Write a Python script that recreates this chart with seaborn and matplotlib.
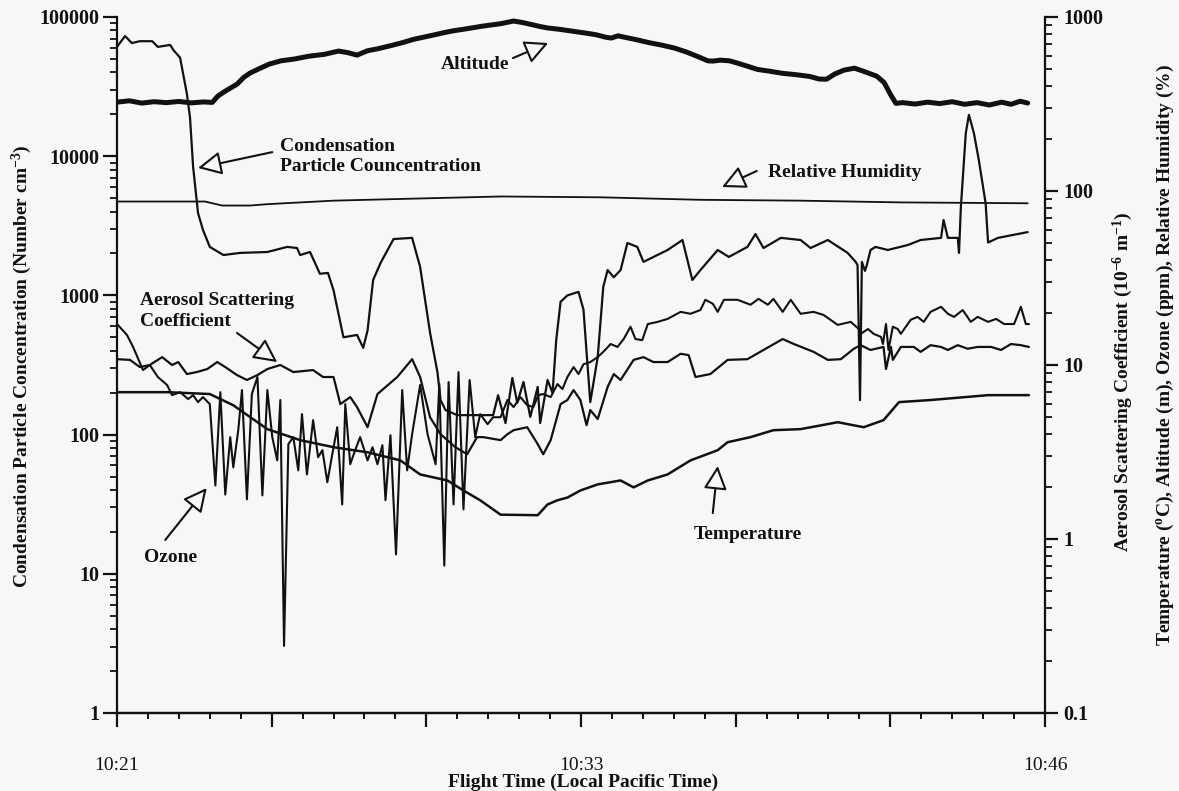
import matplotlib
matplotlib.use("Agg")
import matplotlib.pyplot as plt
import numpy as np
import pandas as pd
import seaborn as sns
from matplotlib.ticker import LogLocator, NullFormatter, MultipleLocator

# ---- flight record (time in seconds after the start of the leg) ----
cn_t = [0, 13, 24, 37, 57, 66, 86, 91, 102, 113, 118, 123, 131, 139, 150, 172, 199, 243, 275, 291,
        296, 312, 328, 341, 350, 366, 388, 398, 405, 414, 426, 447, 477, 490, 506, 518, 523, 531, 550, 608,
        616, 628, 639, 647, 657, 668, 680, 684, 696, 704, 710, 717, 728, 746, 754, 760, 765, 777, 786, 793,
        803, 814, 825, 841, 851, 890, 914, 930, 943, 971, 989, 1019, 1032, 1045, 1073, 1105, 1121, 1149, 1181, 1194,
        1197, 1201, 1204, 1209, 1212, 1218, 1226, 1246, 1278, 1299, 1332, 1336, 1343, 1359, 1361, 1364, 1372, 1377, 1385, 1393,
        1404, 1408, 1424, 1472]
cn_val = [61000, 73000, 65000, 67000, 67000, 61000, 63000, 58000, 51000, 28000, 19000, 8400, 3900, 2950, 2230, 1950, 2020, 2050, 2230, 2190,
          1950, 2050, 1430, 1450, 1090, 500, 520, 420, 560, 1290, 1710, 2540, 2590, 1600, 540, 280, 177, 150, 138, 138,
          192, 121, 255, 169, 239, 134, 220, 121, 247, 199, 480, 900, 1000, 1060, 790, 340, 171, 360, 1150, 1520,
          1350, 1520, 2380, 2230, 1740, 2120, 2500, 1290, 1520, 2120, 1890, 2230, 2760, 2190, 2590, 2500, 2190, 2500, 2020, 1740,
          1650, 177, 1740, 1500, 1650, 2120, 2230, 2120, 2300, 2500, 2590, 3480, 2590, 2590, 2020, 4300, 14700, 19800, 14700, 9400,
          4600, 2400, 2590, 2850]

alt_t = [0, 20, 40, 60, 80, 100, 120, 140, 154, 163, 175, 194, 205, 215, 230, 246, 265, 286,
         310, 335, 358, 372, 388, 405, 420, 440, 460, 480, 495, 511, 530, 545, 560, 573, 590, 605, 620, 641,
         655, 670, 685, 696, 715, 735, 757, 775, 790, 799, 810, 819, 840, 860, 880, 901, 920, 940, 955, 963,
         975, 990, 1003, 1020, 1035, 1055, 1075, 1100, 1120, 1135, 1147, 1160, 1175, 1192, 1205, 1228, 1240, 1250, 1259, 1270,
         1290, 1310, 1330, 1350, 1370, 1390, 1410, 1430, 1445, 1460, 1472]
alt_val = [324, 330, 320, 326, 322, 327, 321, 325, 323, 351, 375, 411, 450, 476, 505, 536, 560, 573,
           595, 610, 637, 625, 604, 640, 655, 681, 710, 745, 765, 787, 815, 835, 850, 865, 885, 900, 915, 948,
           930, 905, 880, 865, 850, 830, 809, 790, 765, 757, 780, 767, 740, 712, 690, 663, 630, 590, 560, 558,
           565, 560, 543, 520, 500, 488, 475, 465, 455, 440, 439, 470, 495, 508, 490, 457, 420, 360, 319, 322,
           316, 324, 318, 326, 315, 322, 312, 324, 315, 328, 320]

rh_t = [0, 142, 170, 215, 243, 350, 458, 620, 781, 943, 1105, 1267, 1472]
rh_val = [87, 87, 82.5, 82.5, 84, 88, 90, 93, 92, 89, 88, 86, 85]

temp_t = [0, 81, 150, 188, 243, 296, 350, 405, 458, 490, 534, 560, 587, 620, 680, 696, 712, 728, 749, 777,
          814, 835, 858, 890, 927, 971, 987, 1024, 1061, 1105, 1165, 1207, 1239, 1264, 1315, 1408, 1474]
temp_val = [6.98, 6.98, 6.81, 5.87, 4.28, 3.70, 3.37, 3.15, 2.83, 2.35, 2.17, 1.90, 1.67, 1.38, 1.37, 1.58, 1.67, 1.73, 1.90, 2.06,
            2.17, 1.98, 2.17, 2.35, 2.83, 3.24, 3.60, 3.85, 4.22, 4.28, 4.69, 4.39, 4.82, 6.12, 6.29, 6.71, 6.71]

oz_t = [0, 16, 26, 42, 53, 66, 81, 89, 102, 115, 123, 131, 139, 150, 159, 167, 175, 183, 188, 196,
        202, 210, 218, 227, 235, 243, 251, 259, 264, 270, 277, 285, 293, 299, 307, 317, 325, 332, 340, 348,
        356, 364, 369, 377, 385, 393, 405, 413, 421, 429, 434, 442, 451, 461, 469, 477, 490, 502, 515, 521,
        529, 536, 544, 552, 560, 570, 579, 587, 599, 608, 620, 631, 641, 652, 663, 673, 681, 689, 701, 712,
        720, 728, 738, 746, 754, 765, 777, 786, 798, 809, 819, 830, 838, 849, 858, 874, 890, 911, 927, 943,
        951, 963, 971, 981, 1003, 1024, 1037, 1052, 1061, 1076, 1089, 1105, 1126, 1142, 1165, 1186, 1199, 1202, 1214, 1223,
        1235, 1238, 1243, 1247, 1254, 1262, 1267, 1283, 1294, 1304, 1315, 1332, 1343, 1353, 1367, 1380, 1391, 1408, 1421, 1434,
        1450, 1461, 1469, 1474]
oz_val = [17.2, 14.9, 12.7, 9.35, 10.0, 8.53, 7.67, 6.71, 6.98, 6.37, 6.71, 6.12, 6.54, 5.96, 2.03, 6.98, 1.80, 3.85, 2.58, 4.22,
          7.18, 1.69, 6.81, 8.53, 1.78, 7.18, 3.85, 2.83, 6.29, 0.243, 3.51, 3.85, 2.48, 5.22, 2.35, 4.82, 2.95, 3.24, 2.12, 3.07,
          4.39, 1.58, 5.96, 2.69, 3.24, 3.85, 2.83, 3.37, 2.69, 3.46, 1.67, 3.95, 0.815, 7.18, 2.48, 4.00, 7.67, 4.00, 2.69, 7.77,
          0.703, 7.98, 1.58, 9.11, 1.48, 8.20, 3.85, 5.22, 4.57, 5.01, 5.01, 6.29, 5.73, 6.54, 5.88, 5.73, 6.71, 6.81, 6.54, 7.77,
          7.27, 8.53, 9.73, 8.87, 10.1, 10.4, 11.1, 11.9, 13.2, 12.7, 14.1, 16.6, 14.1, 13.9, 17.2, 17.7, 18.4, 20.2, 19.7, 20.7,
          23.7, 22.5, 20.2, 23.7, 23.7, 22.2, 24.0, 22.2, 24.0, 20.2, 23.7, 19.7, 20.2, 19.4, 17.0, 17.7, 16.1, 15.1, 16.1, 15.1,
          14.5, 13.2, 17.2, 12.2, 16.6, 16.1, 15.1, 18.2, 18.9, 17.7, 20.2, 21.6, 19.7, 18.9, 20.7, 17.7, 18.9, 17.7, 18.4, 17.2,
          17.2, 21.6, 17.2, 17.2]

aer_t = [0, 21, 37, 53, 73, 89, 99, 113, 129, 146, 162, 175, 194, 210, 227, 243, 264, 285, 317, 333,
         350, 361, 377, 388, 405, 421, 453, 477, 490, 506, 523, 547, 566, 582, 592, 620, 631, 641, 663, 680,
         689, 701, 717, 728, 738, 749, 759, 765, 777, 793, 803, 814, 835, 851, 867, 890, 911, 924, 935, 959,
         987, 1019, 1045, 1076, 1094, 1126, 1149, 1170, 1191, 1202, 1218, 1239, 1243, 1251, 1254, 1267, 1288, 1299, 1315, 1332,
         1343, 1359, 1375, 1391, 1413, 1429, 1445, 1461, 1474]
aer_val = [10.8, 10.7, 9.73, 10.0, 11.1, 10.0, 10.4, 8.87, 9.11, 9.48, 10.4, 9.73, 8.75, 8.20, 8.75, 9.48, 10.0, 9.11, 9.35, 8.53,
           8.53, 5.96, 6.54, 5.73, 4.39, 6.81, 8.53, 10.8, 8.53, 5.01, 4.00, 3.37, 3.07, 3.85, 3.85, 3.70, 4.00, 4.22, 4.39, 3.51,
           3.07, 3.70, 5.96, 6.29, 7.18, 6.29, 4.51, 5.51, 4.89, 7.47, 8.87, 8.20, 10.7, 11.1, 10.4, 10.4, 11.6, 11.4, 8.53, 8.87,
           10.7, 10.8, 12.2, 14.1, 13.2, 11.9, 10.7, 10.8, 12.4, 13.0, 12.2, 12.7, 9.48, 12.7, 10.7, 12.7, 12.7, 11.9, 13.0, 12.7,
           12.2, 13.0, 12.4, 12.7, 12.7, 12.2, 13.2, 13.0, 12.7]

time_ticks = [0, 250, 500, 750, 1000, 1250, 1500]
time_labels = ["10:21", "", "", "10:33", "", "", "10:46"]
left_ticks = [1, 10, 100, 1000, 10000, 100000]
right_ticks = [0.1, 1, 10, 100, 1000]

# ---- style ----
sns.set_theme(style="ticks")
plt.rcParams["font.family"] = ["Liberation Serif", "DejaVu Serif"]
plt.rcParams["mathtext.default"] = "regular"
BG = "#f6f8f8"
INK = "#111111"

fig = plt.figure(figsize=(11.79, 7.91), dpi=100, facecolor=BG)
ax = fig.add_axes([117 / 1179, 1 - 713 / 791, 928 / 1179, 696 / 791])
ax.set_facecolor(BG)
ax.set_yscale("log")
ax.set_xlim(0, 1500)
ax.set_ylim(1, 1e5)

ax2 = ax.twinx()
ax2.set_yscale("log")
ax2.set_ylim(0.1, 1000)
ax2.patch.set_visible(False)


def trace(axis, t, v, lw):
    df = pd.DataFrame({"t": t, "v": v})
    sns.lineplot(data=df, x="t", y="v", ax=axis, color=INK, lw=lw,
                 estimator=None, sort=False, legend=False)


trace(ax, cn_t, cn_val, 1.6)
trace(ax2, alt_t, alt_val, 3.6)
trace(ax2, rh_t, rh_val, 1.3)
trace(ax2, temp_t, temp_val, 1.8)
trace(ax2, oz_t, oz_val, 1.5)
trace(ax2, aer_t, aer_val, 1.6)

for a in (ax, ax2):
    a.set_xlabel("")
    a.set_ylabel("")
    a.spines["top"].set_visible(False)
    for s in a.spines.values():
        s.set_linewidth(1.6)
        s.set_color(INK)
ax.spines["right"].set_visible(False)
ax2.spines["left"].set_visible(False)

# x axis
ax.set_xticks(time_ticks)
ax.set_xticklabels(time_labels, fontsize=14, fontweight="normal")
ax.xaxis.set_minor_locator(MultipleLocator(50))
ax.tick_params(axis="x", which="major", direction="out", length=10, width=1.6, pad=22, colors=INK)
ax.tick_params(axis="x", which="minor", direction="out", length=4, width=1.4, colors=INK)

# left axis
ax.set_yticks(left_ticks)
ax.set_yticklabels([f"{v:g}" for v in left_ticks], fontsize=14.5, fontweight="bold")
ax.yaxis.set_minor_locator(LogLocator(base=10, subs=range(2, 10), numticks=20))
ax.yaxis.set_minor_formatter(NullFormatter())
ax.tick_params(axis="y", which="major", direction="out", length=10, width=1.6, pad=3, colors=INK)
ax.tick_params(axis="y", which="minor", direction="out", length=5, width=1.3, colors=INK)

# right axis
ax2.set_yticks(right_ticks)
ax2.set_yticklabels([f"{v:g}" for v in right_ticks], fontsize=14.5, fontweight="bold")
ax2.yaxis.set_minor_locator(LogLocator(base=10, subs=range(2, 10), numticks=20))
ax2.yaxis.set_minor_formatter(NullFormatter())
ax2.tick_params(axis="y", which="major", direction="out", length=9, width=1.6, pad=4, colors=INK)
ax2.tick_params(axis="y", which="minor", direction="out", length=5, width=1.3, colors=INK)

# axis titles
fig.text(583 / 1179, 1 - 782 / 791, "Flight Time (Local Pacific Time)", ha="center", va="center",
         fontsize=14, fontweight="bold", color=INK)
fig.text(22 / 1179, 1 - 366 / 791, "Condensation Particle Concentration (Number cm$^{-3}$)",
         rotation=90, ha="center", va="center", fontsize=14, fontweight="bold", color=INK)
fig.text(1123 / 1179, 1 - 382 / 791, "Aerosol Scattering Coefficient (10$^{-6}$ m$^{-1}$)",
         rotation=90, ha="center", va="center", fontsize=14, fontweight="bold", color=INK)
fig.text(1165 / 1179, 1 - 355 / 791,
         "Temperature ($^{o}$C), Altitude (m), Ozone (ppm), Relative Humidity (%)",
         rotation=90, ha="center", va="center", fontsize=14, fontweight="bold", color=INK)

# callouts (placed in time / particle-concentration coordinates)
arrow = dict(arrowstyle="-|>,head_length=0.8,head_width=0.4", lw=1.5, ec=INK, fc=BG,
             mutation_scale=18, shrinkA=0, shrinkB=0)
label_kw = dict(fontsize=14, fontweight="bold", color=INK)


def callout(text, text_xy, tail, head, ha="center"):
    ax2.annotate("", xy=head, xytext=tail, xycoords=ax.transData, textcoords=ax.transData,
                 arrowprops=arrow, annotation_clip=False)
    ax2.text(*text_xy, text, transform=ax.transData, ha=ha, va="center", linespacing=1.25, **label_kw)


callout("Altitude", (579, 45900), (640, 50700), (697, 65000))
callout("Condensation\nParticle Councentration", (263, 10000), (251, 10700), (131, 8230), ha="left")
callout("Relative Humidity", (1052, 7700), (1034, 7830), (978, 6010), ha="left")
callout("Aerosol Scattering\nCoefficient", (37, 773), (194, 537), (259, 332), ha="left")
callout("Ozone", (86, 13.2), (78, 17.5), (145, 41.3))
callout("Temperature", (1020, 19.0), (963, 27.3), (971, 59.5))

fig.savefig("out.png", dpi=100, facecolor=BG)
